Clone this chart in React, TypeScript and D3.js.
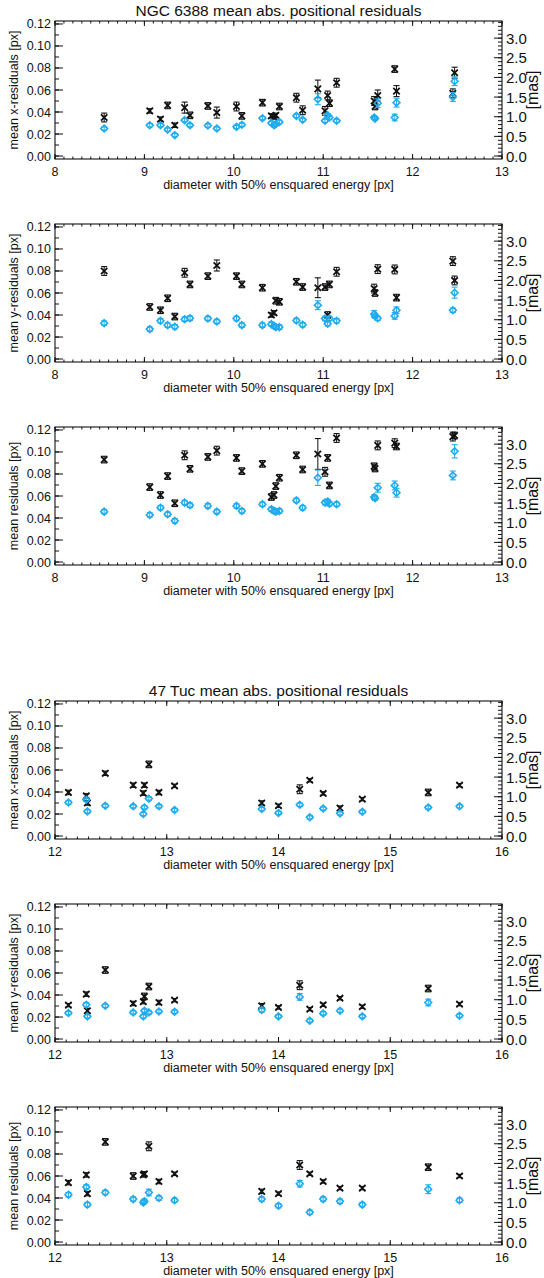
import React from "react";
import * as d3 from "d3";

// ---- NGC 6388: diameter with 50% ensquared energy [px] ----
const ngcDiameter = [8.55, 9.06, 9.18, 9.26, 9.34, 9.45, 9.51, 9.71, 9.81, 10.03, 10.09, 10.32, 10.42, 10.45, 10.47, 10.51, 10.7, 10.77, 10.94, 11.02, 11.05, 11.07, 11.15, 11.57, 11.58, 11.61, 11.8, 11.82, 12.45, 12.47];

// mean x-residuals
const ngcXBlack = [0.035, 0.041, 0.0335, 0.046, 0.028, 0.044, 0.037, 0.0455, 0.0395, 0.045, 0.0365, 0.0485, 0.0365, 0.0355, 0.037, 0.045, 0.053, 0.0416, 0.061, 0.041, 0.055, 0.048, 0.0666, 0.05, 0.045, 0.055, 0.079, 0.059, 0.057, 0.0757];
const ngcXBlackErr = [0.004, 0.002, 0.002, 0.003, 0.002, 0.005, 0.003, 0.003, 0.005, 0.004, 0.003, 0.003, 0.002, 0.002, 0.002, 0.003, 0.004, 0.004, 0.008, 0.004, 0.004, 0.003, 0.004, 0.004, 0.003, 0.005, 0.003, 0.005, 0.004, 0.005];
const ngcXBlue = [0.025, 0.028, 0.028, 0.024, 0.019, 0.0326, 0.028, 0.0277, 0.025, 0.0265, 0.0284, 0.0344, 0.03, 0.028, 0.029, 0.031, 0.0365, 0.0329, 0.0516, 0.032, 0.037, 0.035, 0.032, 0.035, 0.034, 0.048, 0.035, 0.0485, 0.0537, 0.068];
const ngcXBlueErr = [0.0015, 0.0015, 0.0015, 0.0015, 0.0015, 0.0015, 0.0015, 0.0015, 0.0015, 0.0015, 0.0015, 0.0015, 0.0015, 0.0015, 0.0015, 0.0015, 0.0015, 0.0015, 0.005, 0.0015, 0.0015, 0.0015, 0.0015, 0.0015, 0.0015, 0.004, 0.003, 0.004, 0.004, 0.004];

// mean y-residuals
const ngcYBlack = [0.08, 0.0473, 0.0443, 0.0552, 0.0386, 0.0784, 0.0678, 0.0753, 0.085, 0.0753, 0.0678, 0.0648, 0.04, 0.042, 0.053, 0.052, 0.0702, 0.0654, 0.0648, 0.0654, 0.04, 0.0678, 0.0793, 0.064, 0.06, 0.0817, 0.0814, 0.0558, 0.089, 0.0714];
const ngcYBlackErr = [0.004, 0.003, 0.003, 0.003, 0.003, 0.004, 0.003, 0.003, 0.005, 0.003, 0.003, 0.003, 0.002, 0.002, 0.003, 0.003, 0.003, 0.003, 0.009, 0.003, 0.003, 0.003, 0.004, 0.004, 0.003, 0.004, 0.004, 0.003, 0.004, 0.004];
const ngcYBlue = [0.0326, 0.0272, 0.0347, 0.0308, 0.0293, 0.0362, 0.0371, 0.0368, 0.0341, 0.0368, 0.0308, 0.0308, 0.0317, 0.03, 0.029, 0.029, 0.035, 0.0311, 0.0489, 0.0368, 0.032, 0.0368, 0.0347, 0.041, 0.039, 0.037, 0.0392, 0.0443, 0.0443, 0.0603];
const ngcYBlueErr = [0.002, 0.002, 0.002, 0.002, 0.002, 0.002, 0.002, 0.002, 0.002, 0.002, 0.002, 0.002, 0.002, 0.002, 0.002, 0.002, 0.002, 0.002, 0.004, 0.002, 0.002, 0.002, 0.002, 0.003, 0.002, 0.002, 0.003, 0.003, 0.002, 0.005];

// mean residuals
const ngcRBlack = [0.0931, 0.0681, 0.0609, 0.0781, 0.0534, 0.097, 0.0847, 0.0955, 0.1012, 0.0946, 0.0826, 0.0892, 0.0591, 0.0609, 0.069, 0.0766, 0.097, 0.0841, 0.0982, 0.082, 0.0946, 0.0696, 0.1127, 0.087, 0.085, 0.106, 0.108, 0.105, 0.114, 0.115];
const ngcRBlackErr = [0.003, 0.003, 0.003, 0.003, 0.003, 0.004, 0.003, 0.003, 0.004, 0.003, 0.003, 0.003, 0.003, 0.003, 0.003, 0.003, 0.003, 0.003, 0.014, 0.004, 0.003, 0.003, 0.004, 0.003, 0.003, 0.004, 0.004, 0.003, 0.004, 0.003];
const ngcRBlue = [0.0458, 0.0428, 0.0494, 0.0434, 0.0374, 0.054, 0.0516, 0.051, 0.0458, 0.051, 0.0464, 0.0525, 0.0479, 0.0464, 0.0458, 0.0464, 0.056, 0.0494, 0.0766, 0.054, 0.055, 0.053, 0.0525, 0.059, 0.058, 0.0675, 0.0696, 0.063, 0.0787, 0.1006];
const ngcRBlueErr = [0.002, 0.002, 0.002, 0.002, 0.002, 0.002, 0.002, 0.002, 0.002, 0.002, 0.002, 0.002, 0.002, 0.002, 0.002, 0.002, 0.002, 0.002, 0.007, 0.002, 0.002, 0.002, 0.002, 0.002, 0.002, 0.004, 0.004, 0.004, 0.004, 0.006];

// ---- 47 Tuc ----
const tucDiameter = [12.12, 12.28, 12.29, 12.45, 12.7, 12.79, 12.8, 12.84, 12.93, 13.07, 13.85, 14.0, 14.19, 14.28, 14.4, 14.55, 14.75, 15.34, 15.62];

const tucXBlack = [0.0396, 0.0365, 0.03, 0.057, 0.0462, 0.039, 0.0462, 0.0651, 0.0396, 0.0456, 0.03, 0.0275, 0.0425, 0.0507, 0.0387, 0.0254, 0.0335, 0.0396, 0.0462];
const tucXBlackErr = [0.002, 0.002, 0.002, 0.002, 0.002, 0.002, 0.002, 0.003, 0.002, 0.0015, 0.002, 0.0015, 0.004, 0.0015, 0.0015, 0.002, 0.0015, 0.003, 0.0015];
const tucXBlue = [0.0305, 0.033, 0.0224, 0.0275, 0.027, 0.02, 0.026, 0.034, 0.027, 0.0236, 0.0245, 0.021, 0.0284, 0.017, 0.025, 0.0206, 0.022, 0.026, 0.027];
const tucXBlueErr = [0.0015, 0.0015, 0.0015, 0.0015, 0.0015, 0.0015, 0.0015, 0.0015, 0.0015, 0.0015, 0.0015, 0.0015, 0.0015, 0.0015, 0.0015, 0.0015, 0.0015, 0.0015, 0.0015];

const tucYBlack = [0.0308, 0.0408, 0.0257, 0.0627, 0.0323, 0.034, 0.0387, 0.0477, 0.0332, 0.0353, 0.0302, 0.0287, 0.0489, 0.0272, 0.0311, 0.0371, 0.0293, 0.0459, 0.0317];
const tucYBlackErr = [0.0015, 0.002, 0.002, 0.003, 0.002, 0.002, 0.003, 0.003, 0.002, 0.0015, 0.002, 0.0015, 0.004, 0.0015, 0.0015, 0.0015, 0.0015, 0.003, 0.0015];
const tucYBlue = [0.0236, 0.0311, 0.0206, 0.0302, 0.0242, 0.0206, 0.0257, 0.0242, 0.0251, 0.0248, 0.0263, 0.0206, 0.0383, 0.0167, 0.0233, 0.0257, 0.0206, 0.0332, 0.0212];
const tucYBlueErr = [0.0015, 0.002, 0.0015, 0.0015, 0.0015, 0.0015, 0.0015, 0.0015, 0.0015, 0.0015, 0.002, 0.0015, 0.003, 0.0015, 0.0015, 0.0015, 0.0015, 0.003, 0.0015];

const tucRBlack = [0.054, 0.061, 0.044, 0.091, 0.06, 0.061, 0.062, 0.087, 0.055, 0.062, 0.046, 0.044, 0.07, 0.062, 0.055, 0.049, 0.049, 0.068, 0.06];
const tucRBlackErr = [0.002, 0.002, 0.002, 0.003, 0.003, 0.002, 0.002, 0.004, 0.002, 0.0015, 0.002, 0.0015, 0.004, 0.0015, 0.0015, 0.0015, 0.0015, 0.003, 0.0015];
const tucRBlue = [0.043, 0.05, 0.034, 0.045, 0.039, 0.036, 0.037, 0.045, 0.04, 0.038, 0.039, 0.033, 0.053, 0.027, 0.039, 0.037, 0.034, 0.048, 0.038];
const tucRBlueErr = [0.002, 0.002, 0.002, 0.002, 0.002, 0.002, 0.002, 0.003, 0.002, 0.002, 0.002, 0.002, 0.003, 0.002, 0.002, 0.002, 0.002, 0.004, 0.002];

// ---- axis labels ----
const ngcTitle = "NGC 6388 mean abs. positional residuals";
const tucTitle = "47 Tuc mean abs. positional residuals";
const xAxisTitle = "diameter with 50% ensquared energy [px]";
const yTitles = ["mean x-residuals [px]", "mean y-residuals [px]", "mean residuals [px]"];
const masTitle = "[mas]";
const yTickValues = [0, 0.02, 0.04, 0.06, 0.08, 0.1, 0.12];
const masTickValues = [0, 0.5, 1, 1.5, 2, 2.5, 3];

// ---- layout ----
const W = 544;
const H = 1278;
const LEFT = 55;
const RIGHT = 502;
const PH = 138;
const Y_DOMAIN: [number, number] = [-0.0027, 0.1227];
const MAS_PER_PX = 28;
const FONT = "'Liberation Sans', Arial, Helvetica, sans-serif";
const BLUE = "#1eabee";
const INK = "#111";

type PanelProps = {
  top: number;
  xDomain: [number, number];
  title?: string;
  yTitle: string;
  d: number[];
  k: number[];
  ke: number[];
  b: number[];
  be: number[];
};

function Panel({ top, xDomain, title, yTitle, d, k, ke, b, be }: PanelProps) {
  const bottom = top + PH;
  const x = d3.scaleLinear().domain(xDomain).range([LEFT, RIGHT]);
  const y = d3.scaleLinear().domain(Y_DOMAIN).range([bottom, top]);
  const ym = d3
    .scaleLinear()
    .domain([Y_DOMAIN[0] * MAS_PER_PX, Y_DOMAIN[1] * MAS_PER_PX])
    .range([bottom, top]);

  const nUnits = Math.round(xDomain[1] - xDomain[0]);
  const xMajor = d3.range(nUnits + 1).map((i) => xDomain[0] + i);
  const xMinor = d3.range(nUnits * 10 + 1).map((i) => xDomain[0] + i / 10);
  const yMinor = d3.range(13).map((i) => i * 0.01);
  const masMax = ym.domain()[1];
  const mMinor = d3.range(0, Math.floor(masMax * 10 + 1e-6) + 1).map((i) => i / 10);

  const cap = 3;
  const xs = 3.2;
  const ds = 3.4;

  return (
    <g>
      {title && (
        <text x={(LEFT + RIGHT) / 2} y={top - 5} textAnchor="middle" fontSize={15.5} fontFamily={FONT} fill={INK}>
          {title}
        </text>
      )}
      {/* frame */}
      <rect x={LEFT} y={top} width={RIGHT - LEFT} height={PH} fill="none" stroke={INK} strokeWidth={1.1} />

      {/* bottom and top ticks */}
      {xMinor.map((v, i) => (
        <g key={"xm" + i}>
          <line x1={x(v)} x2={x(v)} y1={bottom} y2={bottom - 2.5} stroke={INK} strokeWidth={1} />
          <line x1={x(v)} x2={x(v)} y1={top} y2={top + 2.5} stroke={INK} strokeWidth={1} />
        </g>
      ))}
      {xMajor.map((v, i) => (
        <g key={"xM" + i}>
          <line x1={x(v)} x2={x(v)} y1={bottom} y2={bottom - 5} stroke={INK} strokeWidth={1} />
          <line x1={x(v)} x2={x(v)} y1={top} y2={top + 5} stroke={INK} strokeWidth={1} />
          <text x={x(v)} y={bottom + 17} textAnchor="middle" fontSize={12.5} fontFamily={FONT} fill={INK}>
            {d3.format("d")(v)}
          </text>
        </g>
      ))}
      <text x={(LEFT + RIGHT) / 2} y={bottom + 29.5} textAnchor="middle" fontSize={12.5} fontFamily={FONT} fill={INK}>
        {xAxisTitle}
      </text>

      {/* left axis (px) */}
      {yMinor.map((v, i) => (
        <line key={"ym" + i} x1={LEFT} x2={LEFT + 4} y1={y(v)} y2={y(v)} stroke={INK} strokeWidth={1} />
      ))}
      {yTickValues.map((v, i) => (
        <g key={"yM" + i}>
          <line x1={LEFT} x2={LEFT + 8} y1={y(v)} y2={y(v)} stroke={INK} strokeWidth={1} />
          <text x={LEFT - 4} y={y(v) + 4.5} textAnchor="end" fontSize={12.5} fontFamily={FONT} fill={INK}>
            {d3.format(".2f")(v)}
          </text>
        </g>
      ))}
      <text
        transform={`translate(${18},${(top + bottom) / 2}) rotate(-90)`}
        textAnchor="middle"
        fontSize={12.5}
        fontFamily={FONT}
        fill={INK}
      >
        {yTitle}
      </text>

      {/* right axis (mas) */}
      {mMinor.map((v, i) => (
        <line key={"mm" + i} x1={RIGHT} x2={RIGHT - 4} y1={ym(v)} y2={ym(v)} stroke={INK} strokeWidth={1} />
      ))}
      {masTickValues.map((v, i) => (
        <g key={"mM" + i}>
          <line x1={RIGHT} x2={RIGHT - 8} y1={ym(v)} y2={ym(v)} stroke={INK} strokeWidth={1} />
          <text x={RIGHT + 4} y={ym(v) + 5.5} textAnchor="start" fontSize={15} fontFamily={FONT} fill={INK}>
            {d3.format(".1f")(v)}
          </text>
        </g>
      ))}
      <text
        transform={`translate(${538},${(top + bottom) / 2}) rotate(-90)`}
        textAnchor="middle"
        fontSize={16}
        fontFamily={FONT}
        fill={INK}
      >
        {masTitle}
      </text>

      {/* black series: X symbols with error bars */}
      {d.map((dv, i) => {
        const cx = x(dv);
        const cy = y(k[i]);
        const y0 = y(k[i] - ke[i]);
        const y1 = y(k[i] + ke[i]);
        return (
          <g key={"k" + i} stroke={INK} fill="none">
            <line x1={cx} x2={cx} y1={y0} y2={y1} strokeWidth={1} />
            <line x1={cx - cap} x2={cx + cap} y1={y0} y2={y0} strokeWidth={1.1} />
            <line x1={cx - cap} x2={cx + cap} y1={y1} y2={y1} strokeWidth={1.1} />
            <path
              d={`M${cx - xs},${cy - xs}L${cx + xs},${cy + xs}M${cx - xs},${cy + xs}L${cx + xs},${cy - xs}`}
              strokeWidth={1.8}
            />
          </g>
        );
      })}

      {/* blue series: diamonds with error bars */}
      {d.map((dv, i) => {
        const cx = x(dv);
        const cy = y(b[i]);
        const y0 = y(b[i] - be[i]);
        const y1 = y(b[i] + be[i]);
        return (
          <g key={"b" + i} stroke={BLUE} fill="none">
            <line x1={cx} x2={cx} y1={y0} y2={y1} strokeWidth={1} />
            <line x1={cx - cap} x2={cx + cap} y1={y0} y2={y0} strokeWidth={1.1} />
            <line x1={cx - cap} x2={cx + cap} y1={y1} y2={y1} strokeWidth={1.1} />
            <path d={`M${cx},${cy - ds}L${cx + ds},${cy}L${cx},${cy + ds}L${cx - ds},${cy}Z`} strokeWidth={1.6} />
          </g>
        );
      })}
    </g>
  );
}

export default function App() {
  const ngcTops = [21, 224, 427];
  const tucTops = [701, 904, 1107];
  const ngcSeries = [
    [ngcXBlack, ngcXBlackErr, ngcXBlue, ngcXBlueErr],
    [ngcYBlack, ngcYBlackErr, ngcYBlue, ngcYBlueErr],
    [ngcRBlack, ngcRBlackErr, ngcRBlue, ngcRBlueErr],
  ];
  const tucSeries = [
    [tucXBlack, tucXBlackErr, tucXBlue, tucXBlueErr],
    [tucYBlack, tucYBlackErr, tucYBlue, tucYBlueErr],
    [tucRBlack, tucRBlackErr, tucRBlue, tucRBlueErr],
  ];
  return (
    <svg
      width={W}
      height={H}
      viewBox={`0 0 ${W} ${H}`}
      style={{ position: "absolute", left: 0, top: 0, background: "#fff" }}
    >
      <rect width={W} height={H} fill="#fff" />
      {ngcSeries.map((s, i) => (
        <Panel
          key={"ngc" + i}
          top={ngcTops[i]}
          xDomain={[8, 13]}
          title={i === 0 ? ngcTitle : undefined}
          yTitle={yTitles[i]}
          d={ngcDiameter}
          k={s[0]}
          ke={s[1]}
          b={s[2]}
          be={s[3]}
        />
      ))}
      {tucSeries.map((s, i) => (
        <Panel
          key={"tuc" + i}
          top={tucTops[i]}
          xDomain={[12, 16]}
          title={i === 0 ? tucTitle : undefined}
          yTitle={yTitles[i]}
          d={tucDiameter}
          k={s[0]}
          ke={s[1]}
          b={s[2]}
          be={s[3]}
        />
      ))}
    </svg>
  );
}
